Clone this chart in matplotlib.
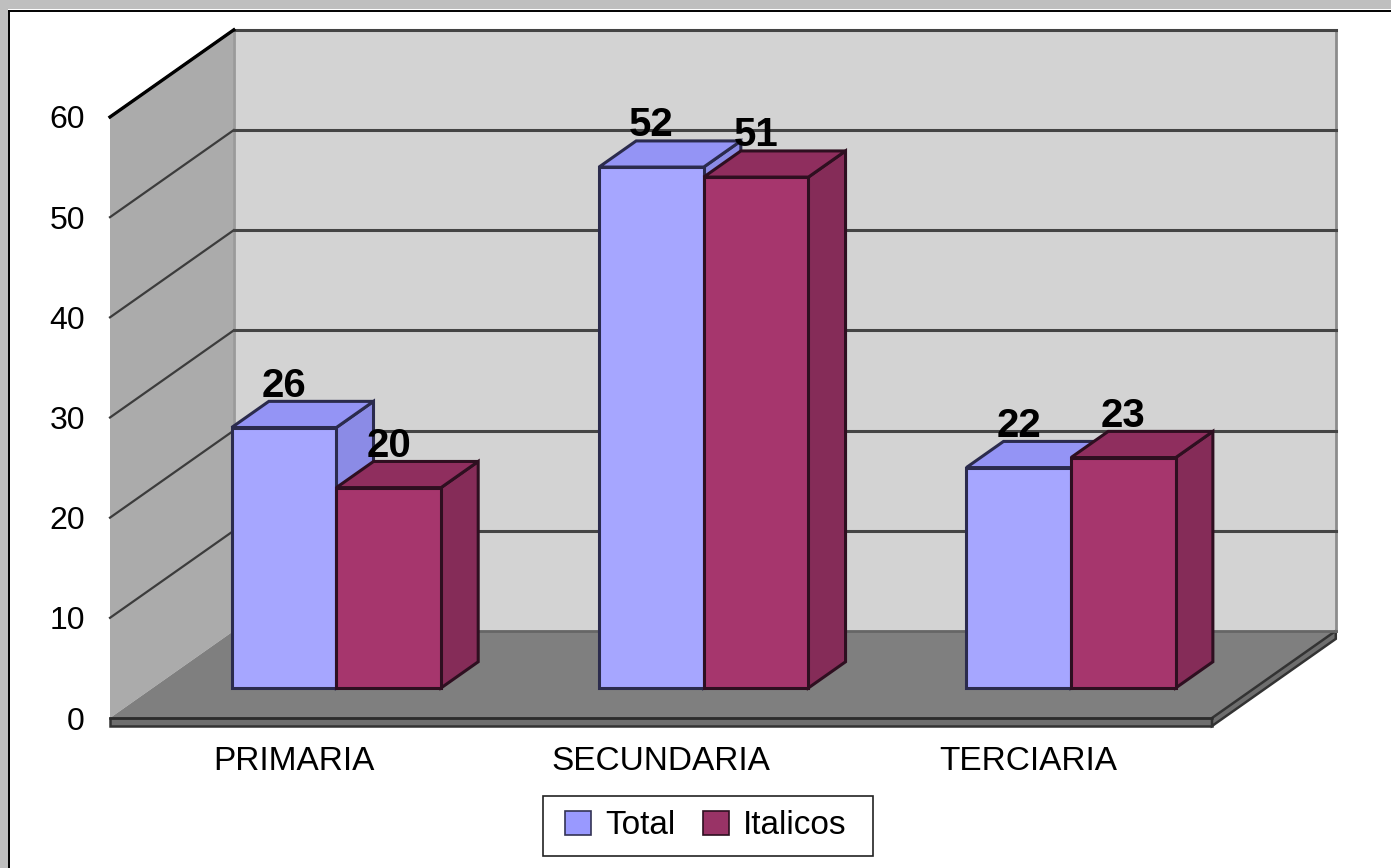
import matplotlib
matplotlib.use("Agg")
import matplotlib.pyplot as plt
from matplotlib.patches import Polygon, Rectangle

plt.rcParams['font.family'] = ['Liberation Sans', 'DejaVu Sans']

# data
categories = ["PRIMARIA", "SECUNDARIA", "TERCIARIA"]
total = [26, 52, 22]
italicos = [20, 51, 23]
yticks = [0, 10, 20, 30, 40, 50, 60]

W, H = 1391, 868
fig = plt.figure(figsize=(W / 100, H / 100), dpi=100, facecolor="white")
ax = fig.add_axes([110 / W, (H - 718) / H, 1102 / W, 601 / H])
ax.set_xlim(0, 3)
ax.set_ylim(0, 60)
ax.patch.set_visible(False)
for s in ax.spines.values():
    s.set_visible(False)

# one unit of depth in chart units (oblique 3D look)
DX = 0.337
DY = 8.7


def pr(x, v, d=0.0):
    return (x + d * DX, v + d * DY)


def poly(pts, fc, ec="none", lw=0, z=1):
    ax.add_patch(Polygon(pts, closed=True, facecolor=fc, edgecolor=ec, linewidth=lw,
                         zorder=z, clip_on=False, joinstyle="miter"))


# walls and floor
poly([pr(0, 0), pr(0, 60), pr(0, 60, 1), pr(0, 0, 1)], "#ababab", z=1)
poly([pr(0, 0, 1), pr(0, 60, 1), pr(3, 60, 1), pr(3, 0, 1)], "#d3d3d3", z=1)
poly([pr(0, 0), pr(3, 0), pr(3, 0, 1), pr(0, 0, 1)], "#7f7f7f", z=2)
# slab under the floor
poly([pr(0, 0), pr(3, 0), pr(3, -0.8), pr(0, -0.8)], "#6e6e6e", "#333333", 1.8, z=2)
poly([pr(3, 0), pr(3, 0, 1), pr(3, -0.8, 1), pr(3, -0.8)], "#6e6e6e", "#333333", 1.8, z=2)

# grid lines on both walls
for v in yticks[1:]:
    ax.plot(*zip(pr(0, v), pr(0, v, 1)), color="#3c3c3c", lw=1.6, zorder=3, clip_on=False)
    ax.plot(*zip(pr(0, v, 1), pr(3, v, 1)), color="#444444", lw=2.2, zorder=3, clip_on=False)
ax.plot(*zip(pr(0, 60), pr(0, 60, 1)), color="black", lw=2.4, zorder=3, clip_on=False)
ax.plot(*zip(pr(0, 0), pr(3, 0)), color="#2c2c2c", lw=1.8, zorder=3, clip_on=False)
ax.plot(*zip(pr(0, 0, 1), pr(0, 60, 1)), color="#9a9a9a", lw=2, zorder=2, clip_on=False)
ax.plot(*zip(pr(3, 0, 1), pr(3, 60, 1)), color="#8c8c8c", lw=2, zorder=2, clip_on=False)
ax.plot(*zip(pr(0, 0, 1), pr(3, 0, 1)), color="#666666", lw=2, zorder=3, clip_on=False)

# bars
BW = 0.285
D0, D1 = 0.345, 0.645
series = [
    (total, -BW, "#a6a6ff", "#9494f5", "#8b8be6", "#2b2b4d", "Total"),
    (italicos, 0, "#a6366d", "#8f2e5e", "#852c58", "#2e0f20", "Italicos"),
]
for i, cat in enumerate(categories):
    c = i + 0.5
    for vals, off, front, top, side, edge, name in series:
        x0, x1 = c + off, c + off + BW
        v = vals[i]
        kw = dict(ec=edge, lw=2.2, z=5)
        poly([pr(x1, 0, D0), pr(x1, 0, D1), pr(x1, v, D1), pr(x1, v, D0)], side, **kw)
        poly([pr(x0, v, D0), pr(x1, v, D0), pr(x1, v, D1), pr(x0, v, D1)], top, **kw)
        poly([pr(x0, 0, D0), pr(x1, 0, D0), pr(x1, v, D0), pr(x0, v, D0)], front, **kw)
        ax.annotate(str(v), xy=pr(c + off + BW / 2, v, D0), xytext=(0, 42),
                    textcoords="offset pixels", ha="center", va="center",
                    fontsize=29, fontweight="bold", color="black",
                    zorder=8, annotation_clip=False)

# axis labels
ax.set_yticks(yticks)
ax.set_xticks([i + 0.5 for i in range(len(categories))])
ax.set_xticklabels(categories)
ax.tick_params(axis="both", length=0)
ax.tick_params(axis="y", labelsize=23, pad=18)
ax.tick_params(axis="x", labelsize=24, pad=20.5)

# legend
handles = [Rectangle((0, 0), 1, 1, facecolor="#9999ff", edgecolor="#333355", linewidth=1.2),
           Rectangle((0, 0), 1, 1, facecolor="#993366", edgecolor="#2e0f20", linewidth=1.2)]
leg = fig.legend(handles, ["Total", "Italicos"], loc="center",
                 bbox_to_anchor=(706 / W, (H - 826) / H), ncol=2, fontsize=24,
                 frameon=False, handlelength=0.78, handleheight=0.7, handletextpad=0.42,
                 columnspacing=0.84, borderpad=0, borderaxespad=0)
fig.add_artist(Rectangle((542.5 / W, (H - 856) / H), 330 / W, 60 / H, transform=fig.transFigure,
                         facecolor="none", edgecolor="#222222", linewidth=1.2))

# window frame of the screenshot
fig.add_artist(Rectangle((0, (H - 9) / H), 1, 9 / H, transform=fig.transFigure,
                         facecolor="#bfbfbf", edgecolor="none"))
fig.add_artist(Rectangle((0, 0), 8 / W, 1, transform=fig.transFigure,
                         facecolor="#bfbfbf", edgecolor="none"))
fig.add_artist(plt.Line2D([8.5 / W, 1], [(H - 10.5) / H] * 2, color="black", lw=1.4))
fig.add_artist(plt.Line2D([8.5 / W] * 2, [0, (H - 10.5) / H], color="black", lw=1.4))

fig.savefig("out.png", dpi=100)
